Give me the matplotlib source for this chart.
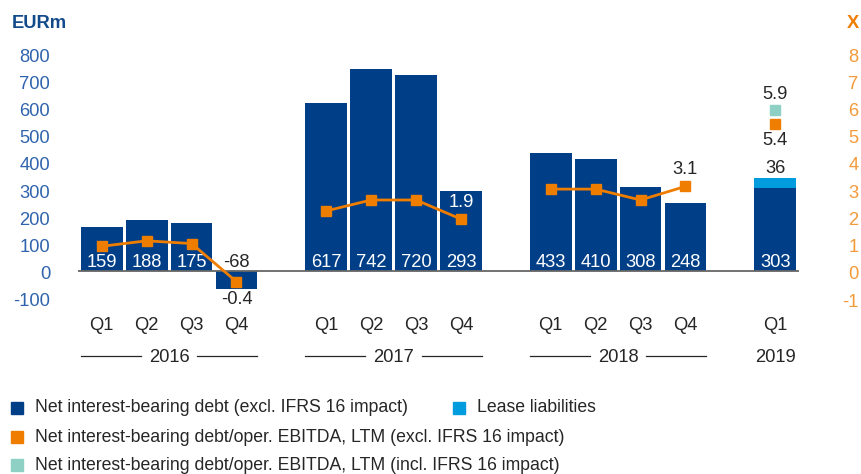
"""
Net interest-bearing debt per quarter (EURm, bars) with the leverage ratio
net interest-bearing debt / oper. EBITDA, LTM (x, right axis).
"""

import matplotlib
matplotlib.use("Agg")
import matplotlib.pyplot as plt
import numpy as np
from matplotlib.patches import Rectangle
from matplotlib.transforms import ScaledTranslation, blended_transform_factory

plt.rcParams["font.family"] = ["Liberation Sans", "DejaVu Sans"]

# ---- data -------------------------------------------------------------
years = ["2016", "2017", "2018", "2019"]
quarters = [["Q1", "Q2", "Q3", "Q4"],
            ["Q1", "Q2", "Q3", "Q4"],
            ["Q1", "Q2", "Q3", "Q4"],
            ["Q1"]]
net_debt = [[159, 188, 175, -68],
            [617, 742, 720, 293],
            [433, 410, 308, 248],
            [303]]
lease_liabilities = [[0, 0, 0, 0],
                     [0, 0, 0, 0],
                     [0, 0, 0, 0],
                     [36]]
ratio_excl = [[0.9, 1.1, 1.0, -0.4],
              [2.2, 2.6, 2.6, 1.9],
              [3.0, 3.0, 2.6, 3.1],
              [5.4]]
ratio_incl_2019 = 5.9
# which ratio labels are printed on the chart (year index, quarter index)
ratio_labels_shown = [(0, 3), (1, 3), (2, 3), (3, 0)]

left_ticks = [-100, 0, 100, 200, 300, 400, 500, 600, 700, 800]
right_ticks = [-1, 0, 1, 2, 3, 4, 5, 6, 7, 8]

legend_items = [
    "Net interest-bearing debt (excl. IFRS 16 impact)",
    "Lease liabilities",
    "Net interest-bearing debt/oper. EBITDA, LTM (excl. IFRS 16 impact)",
    "Net interest-bearing debt/oper. EBITDA, LTM (incl. IFRS 16 impact)",
]

# ---- colours ----------------------------------------------------------
DARK_BLUE = "#003f87"
LIGHT_BLUE = "#009cde"
ORANGE = "#ef7d00"
TEAL = "#8fd0c4"
TICK_BLUE = "#2f64ad"
TICK_ORANGE = "#f39a3a"
TEXT = "#262626"
FS = 13.2


def main():
    fig = plt.figure(figsize=(8.62, 4.74), dpi=100)
    ax = fig.add_axes([78 / 862, 1 - 298 / 474, (799 - 78) / 862, 245 / 474])
    ax2 = ax.twinx()

    # slot positions: four quarters per year, one empty slot between years
    positions = []
    start = 0
    for q in quarters:
        positions.append(list(range(start, start + len(q))))
        start += len(q) + 1

    width = 0.93
    for yi in range(len(years)):
        xs = positions[yi]
        ax.bar(xs, net_debt[yi], width=width, color=DARK_BLUE, zorder=2)
        ax.bar(xs, lease_liabilities[yi], width=width, bottom=net_debt[yi],
               color=LIGHT_BLUE, zorder=2)

        # value labels for the bars
        for x, v, lease in zip(xs, net_debt[yi], lease_liabilities[yi]):
            col = "white" if v > 0 else TEXT
            ax.annotate(f"{v}", (x, 0), xytext=(0, 2.6), textcoords="offset points",
                        ha="center", va="baseline", color=col, fontsize=FS, zorder=4)
            if lease > 0:
                ax.annotate(f"{lease}", (x, v + lease), xytext=(0, 7),
                            textcoords="offset points", ha="center", va="center",
                            color=TEXT, fontsize=FS, zorder=4)

        # leverage ratio line per year
        ax2.plot(xs, ratio_excl[yi], color=ORANGE, lw=2, marker="s", ms=7,
                 zorder=3)

    # 2019 incl. IFRS 16 ratio
    ax2.plot(positions[3][0], ratio_incl_2019, marker="s", ms=7, color=TEAL,
             ls="none", zorder=3)

    # ratio labels
    for yi, qi in ratio_labels_shown:
        x = positions[yi][qi]
        r = ratio_excl[yi][qi]
        v = net_debt[yi][qi]
        if r < 0:
            ax.annotate(f"{r}", (x, v), xytext=(0, -1.5), textcoords="offset points",
                        ha="center", va="top", color=TEXT, fontsize=FS)
        elif yi == 3:
            ax2.annotate(f"{r}", (x, r), xytext=(0, -12), textcoords="offset points",
                         ha="center", va="center", color=TEXT, fontsize=FS)
            ax2.annotate(f"{ratio_incl_2019}", (x, ratio_incl_2019), xytext=(0, 11.5),
                         textcoords="offset points", ha="center", va="center",
                         color=TEXT, fontsize=FS)
        elif v / 100 > r + 0.5:
            # label sits inside the top of the bar
            ax.annotate(f"{r}", (x, v), xytext=(0, -2), textcoords="offset points",
                        ha="center", va="top", color="white", fontsize=FS, zorder=4)
        else:
            ax2.annotate(f"{r}", (x, r), xytext=(0, 12), textcoords="offset points",
                         ha="center", va="center", color=TEXT, fontsize=FS)

    # axes
    all_x = [x for xs in positions for x in xs]
    ax.set_xlim(all_x[0] - 0.53, all_x[-1] + 0.53)
    ax.set_ylim(left_ticks[0], left_ticks[-1])
    ax2.set_ylim(right_ticks[0], right_ticks[-1])
    ax.axhline(0, color="#666666", lw=1.3, zorder=3)

    ax.set_yticks(left_ticks)
    ax.set_yticklabels([str(t) for t in left_ticks], color=TICK_BLUE, fontsize=FS)
    ax2.set_yticks(right_ticks)
    ax2.set_yticklabels([str(t) for t in right_ticks], color=TICK_ORANGE,
                        fontsize=FS, ha="right")
    ax.tick_params(axis="y", length=0, pad=20)
    ax2.tick_params(axis="y", length=0, pad=43)
    # tick labels sit a touch below their value in the original
    shift = ScaledTranslation(0, -0.02, fig.dpi_scale_trans)
    for lab in ax.get_yticklabels() + ax2.get_yticklabels():
        lab.set_transform(lab.get_transform() + shift)

    ax.set_xticks(all_x)
    ax.set_xticklabels([q for qs in quarters for q in qs], color=TEXT, fontsize=FS)
    ax.tick_params(axis="x", length=0, pad=14)

    for a in (ax, ax2):
        for s in a.spines.values():
            s.set_visible(False)

    # year labels with a thin rule under each four-quarter group
    trans = blended_transform_factory(ax.transData, ax.transAxes)
    y_year = -0.237
    for yi, year in enumerate(years):
        xs = positions[yi]
        c = (xs[0] + xs[-1]) / 2
        ax.text(c, y_year - 0.005, year, transform=trans, ha="center", va="center",
                color=TEXT, fontsize=FS)
        if len(xs) > 1:
            half = 0.63
            for x0, x1 in [(xs[0] - width / 2, c - half), (c + half, xs[-1] + width / 2)]:
                ax.plot([x0, x1], [y_year, y_year], transform=trans, color=TEXT,
                        lw=0.9, clip_on=False)

    # axis titles
    fig.text(12 / 862, 1 - 23 / 474, "EURm", color="#134a8a", fontsize=FS,
             fontweight="bold", ha="left", va="center")
    fig.text(859 / 862, 1 - 23 / 474, "X", color=ORANGE, fontsize=FS,
             fontweight="bold", ha="right", va="center")

    # legend drawn by hand: two items on the first row, then one per row
    legend_colors = [DARK_BLUE, LIGHT_BLUE, ORANGE, TEAL]
    legend_pos = [(11, 408), (453, 408), (11, 437), (11, 465)]
    for label, col, (px, py) in zip(legend_items, legend_colors, legend_pos):
        fig.patches.append(Rectangle((px / 862, 1 - (py + 6) / 474), 12 / 862, 12 / 474,
                                     transform=fig.transFigure, color=col))
        fig.text((px + 24) / 862, 1 - py / 474, label, color=TEXT, fontsize=12.7,
                 ha="left", va="center")

    fig.savefig("out.png", dpi=100)


if __name__ == "__main__":
    main()
